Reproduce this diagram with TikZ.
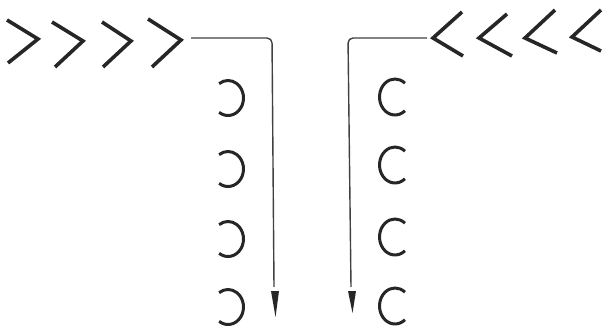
\documentclass[tikz,border=0pt]{standalone}
\begin{document}
\begin{tikzpicture}[x=1pt,y=-1pt,
  chev/.style={line width=3.6pt,draw=black!85,line join=miter,line cap=butt},
  ring/.style={line width=3pt,draw=black!85},
  flow/.style={line width=1.4pt,draw=black!75,rounded corners=5pt},
  head/.style={fill=black!85}]
\useasboundingbox (0,0) rectangle (604,328);
% left chevrons
\draw[chev] (7,20) -- (38,39) -- (8,63);
\draw[chev] (52,22) -- (83,41) -- (55,67);
\draw[chev] (102,22) -- (131,41) -- (103,67);
\draw[chev] (148,19) -- (181,40) -- (152,67);
% right chevrons
\draw[chev] (462,12) -- (433,38) -- (463,56);
\draw[chev] (507,14) -- (479,38) -- (512,56);
\draw[chev] (555,10) -- (525,38) -- (557,53);
\draw[chev] (601,10) -- (572,37) -- (601,51);
% flow lines
\coordinate (ls) at (191,38);
\coordinate (lc) at (272,38);
\coordinate (le) at (274,287);
\coordinate (rs) at (427,38);
\coordinate (rc) at (348,38);
\coordinate (re) at (351,287);
\draw[flow] (ls) -- (lc) -- (le);
\draw[flow] (rs) -- (rc) -- (re);
\fill[head] (271,291) -- (279,291) -- (275.5,317) -- cycle;
\fill[head] (348,291) -- (356,291) -- (352.5,313) -- cycle;
% left rings (open to the left)
\foreach \y in {98,169,239,307}
  \draw[ring] (228,\y) ++(125:15.5 and 17.5) arc[start angle=125,end angle=-125,x radius=15.5,y radius=17.5];
% right rings (open to the right)
\foreach \y in {97,165,237,306}
  \draw[ring] (395,\y) ++(50:15.5 and 18) arc[start angle=50,end angle=310,x radius=15.5,y radius=18];
\end{tikzpicture}
\end{document}
